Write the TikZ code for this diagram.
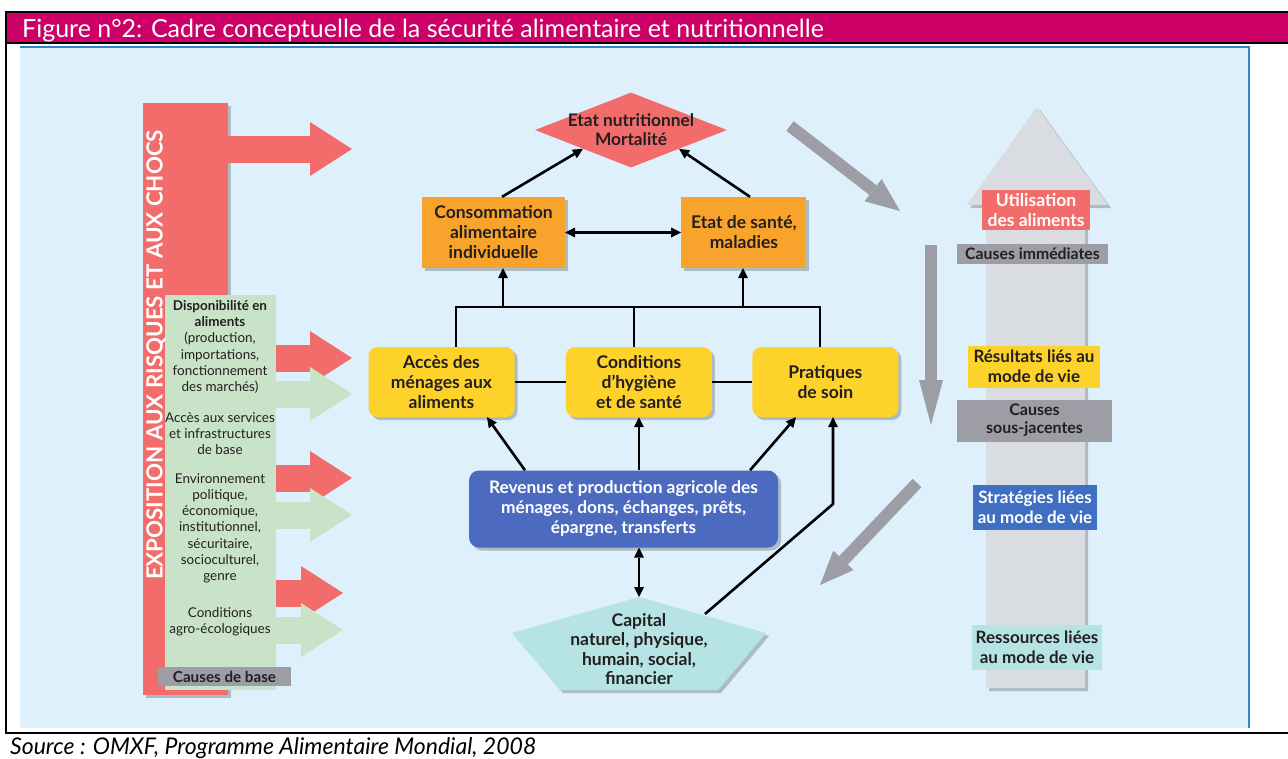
\documentclass[tikz,border=0pt]{standalone}
\usepackage{fontspec}
\setmainfont{Lato}
\usetikzlibrary{positioning,shapes,arrows.meta,shadows}
\definecolor{titlec}{HTML}{CC0066}
\definecolor{bgc}{HTML}{DEF0FC}
\definecolor{edgec}{HTML}{2F86C8}
\definecolor{redc}{HTML}{F26C6B}
\definecolor{greenc}{HTML}{C8E3C7}
\definecolor{orangec}{HTML}{F8A42C}
\definecolor{yellowc}{HTML}{FDD22B}
\definecolor{bluec}{HTML}{4C6BC0}
\definecolor{blue2c}{HTML}{3E6FC2}
\definecolor{cyanc}{HTML}{B6E4E4}
\definecolor{grayc}{HTML}{9C9DA5}
\definecolor{lgrayc}{HTML}{D9DCE0}
\definecolor{textc}{HTML}{231F20}
\tikzstyle{shad}=[drop shadow={shadow xshift=3pt, shadow yshift=-3pt, opacity=.22, fill=black}]
\tikzstyle{obox}=[rectangle, fill=orangec, text=textc, minimum height=71pt, inner sep=0pt, align=center, font=\fontsize{17.5}{20}\selectfont\bfseries, shad]
\tikzstyle{ybox}=[rectangle, rounded corners=9pt, fill=yellowc, text=textc, minimum width=146pt, minimum height=70pt, inner sep=0pt, align=center, font=\fontsize{17.5}{20}\selectfont\bfseries, shad]
\tikzstyle{bbox}=[rectangle, rounded corners=10pt, fill=bluec, text=white, minimum width=309pt, minimum height=77pt, inner sep=0pt, align=center, font=\fontsize{17.3}{20}\selectfont\bfseries, shad]
\tikzstyle{lab}=[rectangle, inner sep=0pt, align=center, text=textc, font=\fontsize{17}{20}\selectfont\bfseries]
\tikzstyle{gtxt}=[align=center, text=textc, inner sep=0pt, font=\fontsize{13.5}{16.3}\selectfont]
\tikzstyle{pline}=[-, line width=2.6pt]
\tikzstyle{arr}=[-{Triangle[length=10pt,width=10pt,line width=0pt]}, line width=2.6pt]
\tikzstyle{darr}=[{Triangle[length=10pt,width=10pt,line width=0pt]}-{Triangle[length=10pt,width=10pt,line width=0pt]}, line width=2.6pt]
\tikzstyle{fatr}=[draw=redc, line width=27pt, -{Triangle[length=42pt,width=54pt,line width=0pt]}]
\tikzstyle{fatg}=[draw=greenc, line width=27pt, -{Triangle[length=42pt,width=54pt,line width=0pt]}]
\tikzstyle{garr}=[draw=grayc, line width=12pt, -{Triangle[length=34pt,width=28pt,line width=0pt]}]
\begin{document}
\begin{tikzpicture}[x=1pt, y=-1pt, node distance=0pt]
\useasboundingbox (0,0) rectangle (1288,758);
\fill[white] (0,0) rectangle (1288,758);
% title bar and frame
\fill[titlec] (6,12) rectangle (1288,43);
\node (title) [anchor=base west, inner sep=0pt, text=white, font=\fontsize{25}{28}\selectfont] at (22,37) {Figure n°2: Cadre conceptuelle de la sécurité alimentaire et nutritionnelle};
\fill[bgc] (20,46) rectangle (1250,728);
\draw[edgec, line width=1.5pt] (20,47) -- (1249,47) -- (1249,728);
\draw[line width=2pt] (1288,12) -- (6,12) -- (6,733) -- (1288,733);
\draw[line width=2pt] (6,43) -- (1288,43);
\node (src) [anchor=base west, inner sep=0pt, font=\fontsize{23}{26}\selectfont\itshape] at (10,754) {Source : OMXF, Programme Alimentaire Mondial, 2008};

% left panel
\node (expo) [rectangle, fill=redc, minimum width=85pt, minimum height=592pt, shad] at (185.5,399) {};
\coordinate (tipA) at (352,149);
\coordinate (tipB) at (352,358);
\coordinate (tipC) at (352,478);
\coordinate (tipD) at (343,593);
\draw[fatr] (expo.east |- tipA) -- (tipA);
\draw[fatr] (expo.east |- tipB) -- (tipB);
\draw[fatr] (expo.east |- tipC) -- (tipC);
\draw[fatr] (expo.east |- tipD) -- (tipD);
\node (vert) [rectangle, fill=greenc, minimum width=111pt, minimum height=395pt] at (220.5,492.5) {};
\coordinate (tipE) at (352,394);
\coordinate (tipF) at (352,515);
\coordinate (tipG) at (343,630);
\draw[fatg] ([xshift=-6pt]vert.east |- tipE) -- (tipE);
\draw[fatg] ([xshift=-6pt]vert.east |- tipF) -- (tipF);
\draw[fatg] ([xshift=-6pt]vert.east |- tipG) -- (tipG);
\node (expotxt) [rotate=90, text=white, inner sep=0pt, font=\fontsize{22.3}{24}\selectfont\bfseries] at (156,355) {EXPOSITION AUX RISQUES ET AUX CHOCS};
\node (dispo) [gtxt, anchor=north] at (220,300) {\textbf{Disponibilité en}\\\textbf{aliments}\\(production,\\importations,\\fonctionnement\\des marchés)};
\node (servic) [gtxt, anchor=north] at (220,412) {Accès aux services\\et infrastructures\\de base};
\node (envir) [gtxt, anchor=north] at (220,473) {Environnement\\politique,\\économique,\\institutionnel,\\sécuritaire,\\socioculturel,\\genre};
\node (agro) [gtxt, anchor=north] at (220,607) {Conditions\\agro-écologiques};
\node (cbase) [lab, fill=grayc, minimum width=133pt, minimum height=19pt, font=\fontsize{15.2}{16}\selectfont\bfseries] at (224.5,676.5) {Causes de base};

% central diagram
\node (nut) [diamond, aspect=2.56, inner sep=-9pt, minimum width=192pt, minimum height=75pt, fill=redc, text=textc, align=center, font=\fontsize{17.3}{19}\selectfont\bfseries] at (631,130) {Etat nutritionnel\\Mortalité};
\node (cons) [obox, minimum width=143pt] at (493.5,232.5) {Consommation\\alimentaire\\individuelle};
\node (etat) [obox, minimum width=125pt, right=116pt of cons] {Etat de santé,\\maladies};
\draw[arr] (cons.north -| 502,0) -- (nut.south west);
\draw[arr] (etat.north -| 750,0) -- (nut.south east);
\draw[darr] (cons.east) -- (etat.west);

\node (acces) [ybox] at (441.5,382) {Accès des\\ménages aux\\aliments};
\node (cond) [ybox, right=51pt of acces] {Conditions\\d’hygiène\\et de santé};
\node (prat) [ybox, right=40pt of cond] {Pratiques\\de soin};
\draw[pline] (acces.east) -- (cond.west);
\draw[pline] (cond.east) -- (prat.west);
\coordinate (brL) at (456,307);
\coordinate (brM) at (634,307);
\coordinate (brR) at (820,307);
\coordinate (upL) at (503,307);
\coordinate (upR) at (743,307);
\draw[pline] (brL |- acces.north) -- (brL) -- (brR) -- (brR |- prat.north);
\draw[pline] (brM) -- (brM |- cond.north);
\draw[arr] (upL) -- (upL |- cons.south);
\draw[arr] (upR) -- (upR |- etat.south);

\node (rev) [bbox] at (623.5,509) {Revenus et production agricole des\\ménages, dons, échanges, prêts,\\épargne, transferts};
\draw[arr] (rev.north -| 525,0) -- (acces.south -| 487,0);
\draw[arr] (rev.north -| cond.south) -- (cond.south);
\draw[arr] (rev.north -| 750,0) -- (prat.south -| 796,0);

\coordinate (captop) at (639,597);
\coordinate (capne) at (705,614);
\coordinate (bend) at (833,504);
\fill[cyanc, shad] (captop) -- (766,633) -- (718,690) -- (560,690) -- (512,633) -- cycle;
\node (cap) [lab, font=\fontsize{17.5}{19.5}\selectfont\bfseries] at (639,649) {Capital\\naturel, physique,\\humain, social,\\financier};
\draw[darr] (rev.south -| captop) -- (captop);
\draw[arr] (capne) -- (bend) -- (bend |- prat.south);

% grey flow arrows
\coordinate (g1a) at (790,126);
\coordinate (g1b) at (900,211);
\coordinate (g2a) at (931,245);
\coordinate (g2b) at (931,425);
\coordinate (g3a) at (917,483);
\coordinate (g3b) at (820,585);
\draw[garr] (g1a) -- (g1b);
\draw[garr, -{Triangle[length=45pt,width=24pt,line width=0pt]}] (g2a) -- (g2b);
\draw[garr] (g3a) -- (g3b);

% right column
\fill[lgrayc, shad] (986,688) -- (986,205) -- (967,205) -- (1037,107) -- (1108,205) -- (1085,205) -- (1085,688) -- cycle;
\node (util) [lab, fill=redc, text=white, minimum width=108pt, minimum height=40pt, font=\fontsize{17.5}{20}\selectfont\bfseries] at (1036,210) {Utilisation\\des aliments};
\node (cimm) [lab, fill=grayc, minimum width=151pt, minimum height=20pt, font=\fontsize{15.8}{16}\selectfont\bfseries] at (1032.5,254) {Causes immédiates};
\node (resul) [lab, fill=yellowc, minimum width=132pt, minimum height=42pt] at (1034,366.5) {Résultats liés au\\mode de vie};
\node (csous) [lab, fill=grayc, minimum width=155pt, minimum height=42pt, font=\fontsize{16}{18}\selectfont\bfseries] at (1034.5,420.5) {Causes\\sous-jacentes};
\node (strat) [lab, fill=blue2c, text=white, minimum width=124pt, minimum height=45pt] at (1035,507.5) {Stratégies liées\\au mode de vie};
\node (ress) [lab, fill=cyanc, minimum width=130pt, minimum height=45pt] at (1037,647) {Ressources liées\\au mode de vie};
\end{tikzpicture}
\end{document}
